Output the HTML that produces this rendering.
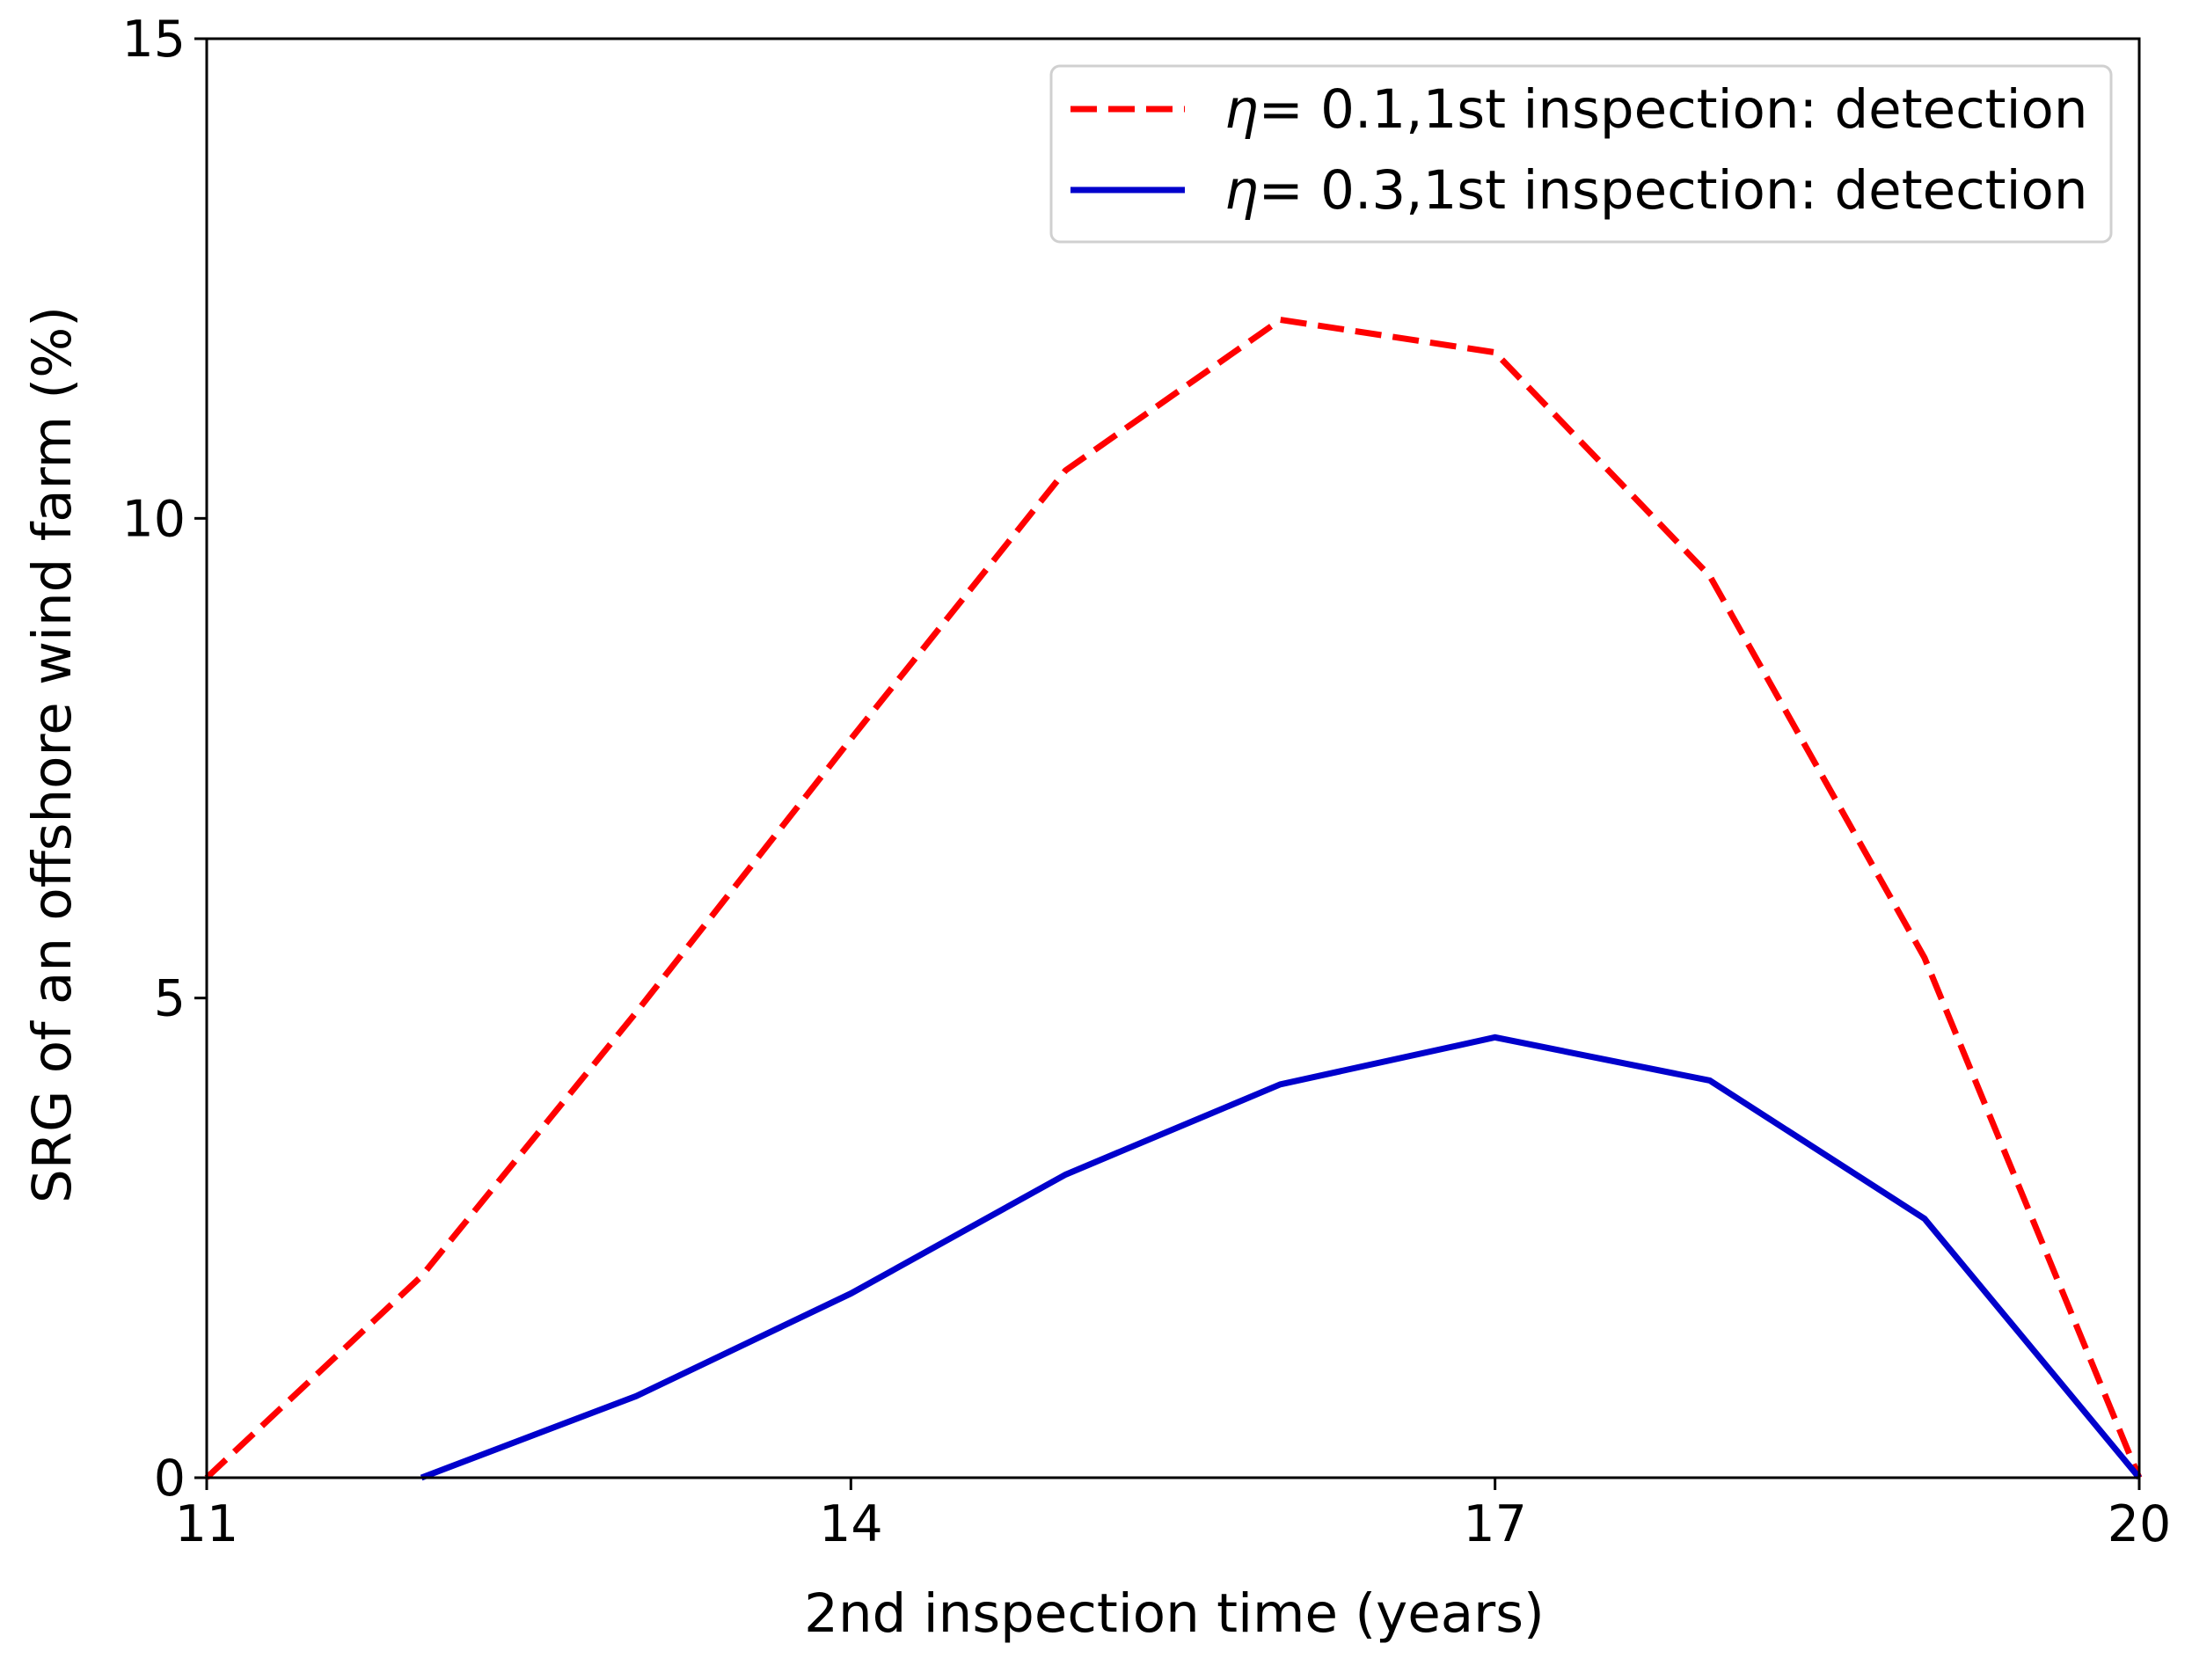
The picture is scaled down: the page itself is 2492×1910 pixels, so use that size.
<!DOCTYPE html>
<html><head><meta charset="utf-8"><style>
body{margin:0;background:#fff}
svg text{font-family:"DejaVu Sans","Liberation Sans",sans-serif;fill:#000}
</style></head><body>
<svg id="chart" width="2492" height="1905" xmlns="http://www.w3.org/2000/svg">
<g id="plot"></g>
</svg>
<script>
const xCats=[11,12,13,14,15,16,17,18,19,20];
const redVals=[0,2.1,4.85,7.7,10.5,12.07,11.73,9.4,5.42,0];
const blueX=[12,13,14,15,16,17,18,19,20];
const blueVals=[0,0.85,1.92,3.16,4.1,4.59,4.14,2.7,0];
const xTicks=[11,14,17,20];
const yTicks=[0,5,10,15];
const L=235,R=2432,T=44,B=1680;
const sx=v=>L+(v-11)/(20-11)*(R-L);
const sy=v=>B-(v-0)/15*(B-T);
const NS="http://www.w3.org/2000/svg";
const g=document.getElementById('plot');
function mk(t,a){const e=document.createElementNS(NS,t);for(const k in a)e.setAttribute(k,a[k]);g.appendChild(e);return e;}
let p=mk('polyline',{points:xCats.map((x,i)=>sx(x)+','+sy(redVals[i])).join(' '),fill:'none',stroke:'#ff0000','stroke-width':7,'stroke-dasharray':'30,13'});


let b=mk('polyline',{points:blueX.map((x,i)=>sx(x)+','+sy(blueVals[i])).join(' '),fill:'none',stroke:'#0000cc','stroke-width':7});


let f=mk('rect',{x:L,y:T,width:R-L,height:B-T,fill:'none',stroke:'#000','stroke-width':3});


xTicks.forEach(v=>{
 let l=mk('line',{x1:sx(v),x2:sx(v),y1:B,y2:B+14,stroke:'#000','stroke-width':3});
 
 
 let t=mk('text',{x:sx(v),y:B+72,'text-anchor':'middle','font-size':57});
 t.textContent=v;
 
 
});
yTicks.forEach(v=>{
 let l=mk('line',{x1:L-14,x2:L,y1:sy(v),y2:sy(v),stroke:'#000','stroke-width':3});
 
 
 let t=mk('text',{x:L-24,y:sy(v)+20,'text-anchor':'end','font-size':57});
 t.textContent=v;
 
 
});
</script>
<svg style="position:absolute;left:0;top:0" width="2492" height="1905" xmlns="http://www.w3.org/2000/svg">
<text x="1335" y="1855" text-anchor="middle" font-size="61">2nd inspection time (years)</text>
<text transform="translate(80,858) rotate(-90)" text-anchor="middle" font-size="61">SRG of an offshore wind farm (%)</text>
<g>
<rect x="1195" y="75" width="1205" height="200" rx="10" fill="#fff" stroke="#d0d0d0" stroke-width="3"/>
<line x1="1217" y1="124" x2="1347" y2="124" stroke="#ff0000" stroke-width="7" stroke-dasharray="30,13"/>
<text x="1392" y="145" font-size="61"><tspan font-style="italic">η</tspan>= 0.1,1st inspection: detection</text>
<line x1="1217" y1="216" x2="1347" y2="216" stroke="#0000cc" stroke-width="7"/>
<text x="1392" y="237" font-size="61"><tspan font-style="italic">η</tspan>= 0.3,1st inspection: detection</text>
</g>
</svg>
</body></html>
